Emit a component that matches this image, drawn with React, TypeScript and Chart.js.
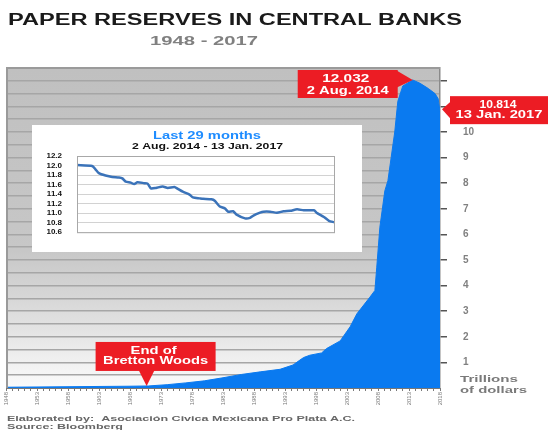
import React, { useEffect, useRef } from "react";
import { Chart, registerables } from "chart.js";
Chart.register(...registerables);

// ---- Data ----
const mainYears = [1948, 1953, 1958, 1963, 1968, 1971, 1974, 1977, 1980, 1983, 1986, 1989, 1992.2, 1994.3, 1995.4, 1996, 1997, 1998.9, 1999.7, 2001.9, 2003.5, 2004.6, 2006.7, 2007.5, 2007.8, 2008.3, 2009.1, 2009.6, 2010.7, 2011.2, 2012, 2013.6, 2014.8, 2016.1, 2017.2, 2017.7, 2018];
const mainValues = [0.03, 0.04, 0.05, 0.06, 0.07, 0.08, 0.13, 0.2, 0.28, 0.4, 0.53, 0.63, 0.73, 0.9, 1.09, 1.19, 1.28, 1.37, 1.54, 1.84, 2.39, 2.9, 3.55, 3.81, 4.72, 6.28, 7.7, 8.1, 10.0, 11.2, 11.8, 12.032, 11.9, 11.7, 11.5, 11.3, 10.814];
const xTickLabels = ["1948", "1953", "1958", "1963", "1968", "1973", "1978", "1983", "1988", "1993", "1998", "2003", "2008", "2013", "2018"];
const yTickLabels = ["1", "2", "3", "4", "5", "6", "7", "8", "9", "10"];
const brettonWoodsYear = 1971;

const insetMonths = [0, 1.73, 2.11, 2.5, 3.26, 4.03, 4.8, 5.18, 5.57, 6.14, 6.53, 6.91, 7.68, 8.06, 8.45, 9.02, 9.79, 10.37, 11.13, 11.52, 12.09, 12.86, 13.25, 14.01, 14.4, 15.36, 15.74, 16.32, 16.89, 17.28, 17.85, 18.24, 19.2, 19.77, 20.16, 20.92, 21.31, 22.08, 22.84, 23.61, 24.38, 25.15, 25.91, 27.07, 27.45, 28.22, 28.79, 29.37];
const insetValues = [12.01, 11.99, 11.92, 11.84, 11.79, 11.76, 11.75, 11.73, 11.66, 11.64, 11.61, 11.65, 11.63, 11.62, 11.52, 11.53, 11.56, 11.53, 11.55, 11.51, 11.45, 11.39, 11.33, 11.31, 11.3, 11.29, 11.26, 11.14, 11.1, 11.03, 11.04, 10.97, 10.89, 10.9, 10.95, 11.01, 11.03, 11.03, 11.01, 11.04, 11.05, 11.08, 11.06, 11.06, 11.0, 10.92, 10.84, 10.81];

const FONT = '"Liberation Sans", Arial, sans-serif';
const RED = "#ec1c24";
const BLUE = "#0a7af0";

function fitText(ctx: CanvasRenderingContext2D, text: string, x: number, y: number, width: number, size: number, color: string, align: CanvasTextAlign = "left") {
  ctx.save();
  ctx.font = `bold ${size}px ${FONT}`;
  ctx.fillStyle = color;
  ctx.textBaseline = "middle";
  ctx.textAlign = align;
  const w = ctx.measureText(text).width || 1;
  ctx.translate(x, y);
  ctx.scale(width / w, 1);
  ctx.fillText(text, 0, 0);
  ctx.restore();
}

const mainDecor = {
  id: "mainDecor",
  beforeDraw(chart: any) {
    const { ctx, chartArea: a } = chart;
    ctx.save();
    ctx.fillStyle = "#ffffff";
    ctx.fillRect(0, 0, chart.width, chart.height);
    const g = ctx.createLinearGradient(0, a.top, 0, a.bottom);
    g.addColorStop(0, "#c0c0c0");
    g.addColorStop(0.57, "#c7c7c7");
    g.addColorStop(0.73, "#d8d8d8");
    g.addColorStop(0.86, "#e9e9e9");
    g.addColorStop(1, "#fbfbfb");
    ctx.fillStyle = g;
    ctx.fillRect(a.left, a.top, a.right - a.left, a.bottom - a.top);
    ctx.restore();
  },
  afterDraw(chart: any) {
    const { ctx, chartArea: a } = chart;
    const xs = chart.scales.x;
    const ys = chart.scales.y;
    ctx.save();
    // plot border (left & top)
    ctx.strokeStyle = "#9a9a9a";
    ctx.lineWidth = 2;
    ctx.beginPath();
    ctx.moveTo(a.left + 1, a.bottom);
    ctx.lineTo(a.left + 1, a.top);
    ctx.lineTo(a.right, a.top);
    ctx.stroke();

    // titles
    fitText(ctx, "PAPER RESERVES IN CENTRAL BANKS", 8, 21, 454, 16, "#1a1a1a");
    fitText(ctx, "1948 - 2017", 150, 41.5, 108, 12, "#808080");

    // peak callout
    let pi = 0;
    mainValues.forEach((v, i) => { if (v > mainValues[pi]) pi = i; });
    const px = xs.getPixelForValue(mainYears[pi]);
    const py = ys.getPixelForValue(mainValues[pi]);
    const bR = px - 15, bL = bR - 100, bT = py - 10, bH = 28;
    ctx.fillStyle = RED;
    ctx.fillRect(bL, bT, bR - bL, bH);
    ctx.beginPath();
    ctx.moveTo(bR - 2, bT);
    ctx.lineTo(px, py);
    ctx.lineTo(bR - 2, bT + 18);
    ctx.closePath();
    ctx.fill();
    const pc = (bL + bR) / 2;
    fitText(ctx, "12.032", pc - 2, bT + 9, 47, 10, "#ffffff", "center");
    fitText(ctx, "2 Aug. 2014", pc, bT + 21, 82, 10, "#ffffff", "center");

    // last value callout
    const li = mainValues.length - 1;
    const lx = xs.getPixelForValue(mainYears[li]) + 2;
    const ly = ys.getPixelForValue(mainValues[li]) - 2;
    const lL = lx + 8, lT = ly - 13, lH = 28;
    ctx.fillStyle = RED;
    ctx.fillRect(lL, lT, chart.width - lL, lH);
    ctx.beginPath();
    ctx.moveTo(lL + 1, lT + 5);
    ctx.lineTo(lx, ly);
    ctx.lineTo(lL + 1, lT + 23);
    ctx.closePath();
    ctx.fill();
    const lc = (lL + chart.width) / 2;
    fitText(ctx, "10.814", lc - 1, lT + 9, 37, 10, "#ffffff", "center");
    fitText(ctx, "13 Jan. 2017", lc, lT + 19, 87, 10, "#ffffff", "center");

    // Bretton Woods callout
    const bi = mainYears.indexOf(brettonWoodsYear);
    const tx = xs.getPixelForValue(mainYears[bi]) - 2;
    const ty = ys.getPixelForValue(mainValues[bi]);
    const wL = tx - 51, wT = ty - 44, wB = ty - 15, wR = tx + 69;
    ctx.fillStyle = RED;
    ctx.fillRect(wL, wT, wR - wL, wB - wT);
    ctx.beginPath();
    ctx.moveTo(tx - 8, wB - 1);
    ctx.lineTo(tx, ty);
    ctx.lineTo(tx + 8, wB - 1);
    ctx.closePath();
    ctx.fill();
    const wc = (wL + wR) / 2;
    fitText(ctx, "End of", wc - 2, wT + 9, 46, 10, "#ffffff", "center");
    fitText(ctx, "Bretton Woods", wc, wT + 19, 105, 10, "#ffffff", "center");

    // unit
    fitText(ctx, "Trillions", 460, 380, 58, 9, "#7a7a7a");
    fitText(ctx, "of dollars", 460, 391, 67, 9, "#7a7a7a");

    // footer
    fitText(ctx, "Elaborated by:  Asociación Civica Mexicana Pro Plata A.C.", 7, 418.5, 348, 8, "#666666");
    fitText(ctx, "Source: Bloomberg", 7, 427, 116, 8, "#666666");
    ctx.restore();
  },
};

const insetDecor = {
  id: "insetDecor",
  beforeDraw(chart: any) {
    const { ctx } = chart;
    ctx.save();
    ctx.fillStyle = "#ffffff";
    ctx.fillRect(0, 0, chart.width, chart.height);
    ctx.restore();
  },
  afterDraw(chart: any) {
    const { ctx, chartArea: a } = chart;
    ctx.save();
    ctx.strokeStyle = "#a8a8a8";
    ctx.lineWidth = 1;
    ctx.strokeRect(a.left + 0.5, a.top + 0.5, a.right - a.left, a.bottom - a.top);
    ctx.restore();
    fitText(ctx, "Last 29 months", 175, 10.5, 108, 11, "#1e8cff", "center");
    fitText(ctx, "2 Aug. 2014 - 13 Jan. 2017", 175.5, 22, 151, 9, "#111111", "center");
  },
};

export default function App() {
  const mainRef = useRef<HTMLCanvasElement>(null);
  const insetRef = useRef<HTMLCanvasElement>(null);

  useEffect(() => {
    const main = new Chart(mainRef.current as HTMLCanvasElement, {
      type: "line",
      data: {
        datasets: [
          {
            data: mainYears.map((x, i) => ({ x, y: mainValues[i] })),
            fill: "origin",
            backgroundColor: BLUE,
            borderColor: BLUE,
            borderWidth: 1,
            pointRadius: 0,
            tension: 0,
          },
        ],
      },
      options: {
        responsive: false,
        animation: false,
        layout: { padding: { left: 6, top: 68, right: 0, bottom: 0 } },
        plugins: { legend: { display: false }, tooltip: { enabled: false }, title: { display: false } },
        scales: {
          x: {
            type: "linear",
            min: 1948,
            max: 2018,
            afterFit: (s: any) => { s.height = 42; },
            ticks: {
              stepSize: 1,
              autoSkip: false,
              minRotation: 90,
              maxRotation: 90,
              padding: 1,
              color: "#7a7a7a",
              font: { size: 6, family: FONT },
              callback: (v: any) => {
                const n = Math.round(Number(v)) - 1948;
                return n % 5 === 0 ? xTickLabels[n / 5] ?? "" : "";
              },
            },
            grid: { drawOnChartArea: false, drawTicks: true, tickLength: 3, tickColor: "#7a7a7a" },
            border: { display: true, color: "#777777", dash: [2, 2], width: 1 },
          },
          y: {
            position: "right",
            min: 0,
            max: 12.5,
            afterFit: (s: any) => { s.width = 108; },
            ticks: {
              stepSize: 0.5,
              autoSkip: false,
              padding: 16,
              color: "#808080",
              font: { size: 10, weight: "bold", family: FONT },
              callback: (v: any) => {
                const n = Number(v);
                return Number.isInteger(n) && n >= 1 && n <= 10 ? yTickLabels[n - 1] : "";
              },
            },
            grid: {
              color: "#a6a6a6",
              lineWidth: 1.5,
              drawTicks: true,
              tickLength: 7,
              tickColor: (c: any) => (c.tick && Number.isInteger(c.tick.value) && c.tick.value > 0 ? "#555555" : "rgba(0,0,0,0)"),
              tickWidth: 1.5,
            },
            border: { display: true, color: "#8a8a8a", width: 1.5 },
          },
        },
      },
      plugins: [mainDecor],
    } as any);

    const inset = new Chart(insetRef.current as HTMLCanvasElement, {
      type: "line",
      data: {
        datasets: [
          {
            data: insetMonths.map((x, i) => ({ x, y: insetValues[i] })),
            borderColor: "#3b73b9",
            borderWidth: 2.5,
            pointRadius: 0,
            tension: 0.2,
            fill: false,
          },
        ],
      },
      options: {
        responsive: false,
        animation: false,
        layout: { padding: { top: 31, right: 28, bottom: 15, left: 0 } },
        plugins: { legend: { display: false }, tooltip: { enabled: false } },
        scales: {
          x: { type: "linear", min: 0, max: 29.37, display: false },
          y: {
            min: 10.6,
            max: 12.2,
            afterFit: (s: any) => { s.width = 45; },
            ticks: {
              stepSize: 0.2,
              autoSkip: false,
              padding: 15,
              color: "#111111",
              font: { size: 8, weight: "bold", family: FONT },
              callback: (v: any) => Number(v).toFixed(1),
            },
            grid: { color: "#d2d2d2", lineWidth: 1, drawTicks: false },
            border: { display: false },
          },
        },
      },
      plugins: [insetDecor],
    } as any);

    return () => {
      main.destroy();
      inset.destroy();
    };
  }, []);

  return (
    <div style={{ position: "absolute", left: 0, top: 0, width: 548, height: 430, background: "#ffffff", overflow: "hidden" }}>
      <canvas ref={mainRef} width={548} height={430} style={{ position: "absolute", left: 0, top: 0, width: 548, height: 430 }} />
      <canvas ref={insetRef} width={330} height={127} style={{ position: "absolute", left: 32, top: 125, width: 330, height: 127 }} />
    </div>
  );
}
